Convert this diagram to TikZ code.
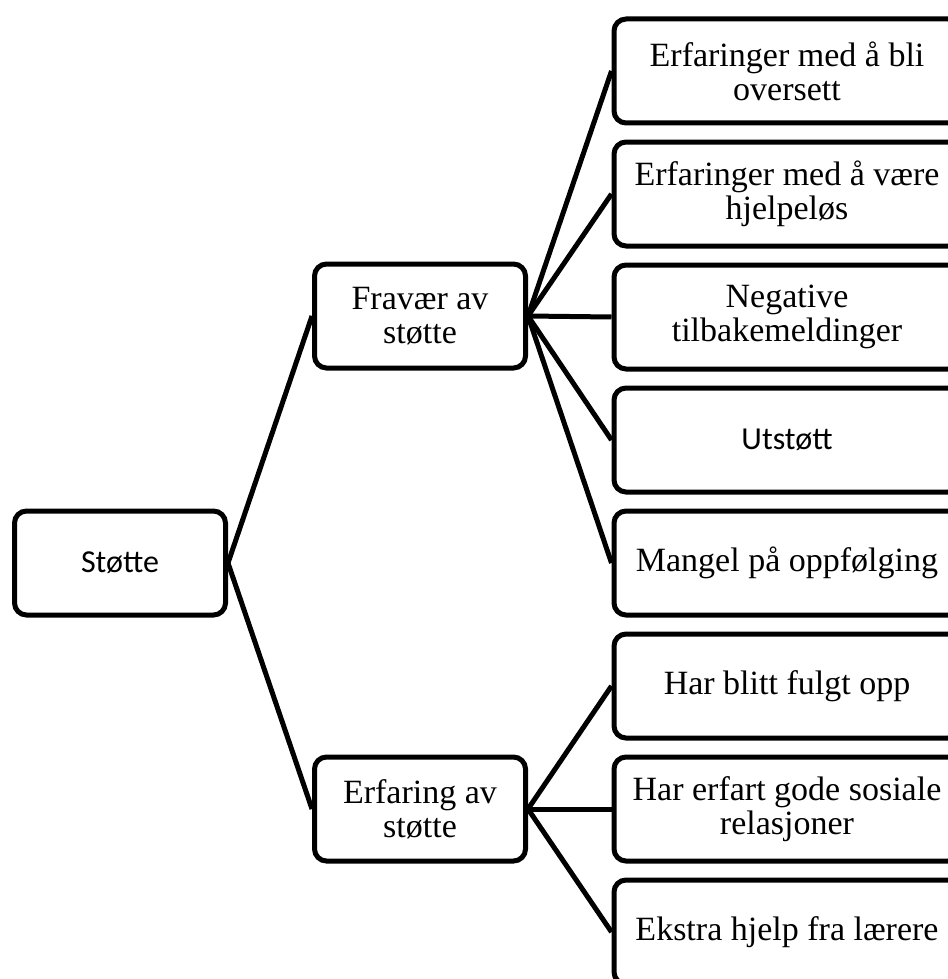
\documentclass[tikz,border=0pt]{standalone}
\usepackage{fontspec}
\setmainfont{Liberation Serif}
\newfontfamily\sansfont{Carlito}
\usepackage{tikz}
\tikzset{box/.style={shape=rectangle, draw=black, line width=5pt, rounded corners=12pt,
    align=center, inner sep=0pt, minimum height=104pt,
    font=\fontsize{34}{34}\selectfont},
  sbox/.style={box, font=\sansfont\fontsize{32}{34}\selectfont},
  link/.style={draw=black, line width=5pt}}

\begin{document}
\begin{tikzpicture}[x=1pt, y=-1pt]
    \useasboundingbox (0,0) rectangle (947,979);

    \node[sbox, minimum width=211pt] (A) at (120,563) {Støtte};

    \node[box, minimum width=211pt] (B) at (420,316) {Fravær av\\støtte};
    \node[box, minimum width=211pt] (C) at (420,809) {Erfaring av\\støtte};

    \node[box, minimum width=346pt] (B1) at (787,71) {Erfaringer med å bli\\oversett};
    \node[box, minimum width=346pt] (B2) at (787,194) {Erfaringer med å være\\hjelpeløs};
    \node[box, minimum width=346pt] (B3) at (787,317) {Negative\\tilbakemeldinger};
    \node[sbox, minimum width=346pt] (B4) at (787,440) {Utstøtt};
    \node[box, minimum width=346pt] (B5) at (787,563) {Mangel på oppfølging};

    \node[box, minimum width=346pt] (C1) at (787,686) {Har blitt fulgt opp};
    \node[box, minimum width=346pt] (C2) at (787,809) {Har erfart gode sosiale\\relasjoner};
    \node[box, minimum width=346pt] (C3) at (787,932) {Ekstra hjelp fra lærere};

    \draw[link] (A.east) -- (B.west);
    \draw[link] (A.east) -- (C.west);
    \draw[link] (B.east) -- (B1.west);
    \draw[link] (B.east) -- (B2.west);
    \draw[link] (B.east) -- (B3.west);
    \draw[link] (B.east) -- (B4.west);
    \draw[link] (B.east) -- (B5.west);
    \draw[link] (C.east) -- (C1.west);
    \draw[link] (C.east) -- (C2.west);
    \draw[link] (C.east) -- (C3.west);

\end{tikzpicture}
\end{document}
